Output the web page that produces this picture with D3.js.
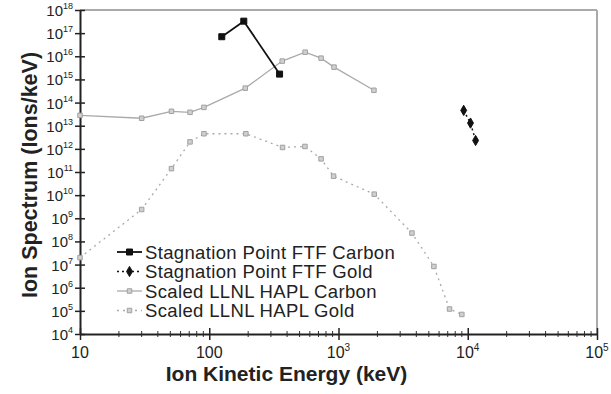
<!DOCTYPE html>
<html>
<head>
<meta charset="utf-8">
<script src="https://cdn.jsdelivr.net/npm/d3@7"></script>
<style>
  body { margin: 0; background: #fff; }
  svg { font-family: "Liberation Sans", Arial, sans-serif; }
</style>
</head>
<body>
<div id="chart"></div>
<script>
// values (energy in keV, spectrum in ions/keV)
const ftfCarbonE = [125, 185, 350];
const ftfCarbonY = [7e16, 3.3e17, 1.7e15];
const ftfGoldE = [9300, 10500, 11500];
const ftfGoldY = [4.6e13, 1.3e13, 2.3e12];
const haplCarbonE = [10, 30, 51, 71, 91, 190, 367, 552, 733, 923, 1880];
const haplCarbonY = [2.8e13, 2.1e13, 4.2e13, 3.8e13, 6.2e13, 4.2e14, 6.2e15, 1.5e16, 8.3e15, 3.4e15, 3.4e14];
const haplGoldE = [10, 30, 51, 71, 91, 192, 369, 550, 733, 916, 1890, 3700, 5470, 7230, 9000];
const haplGoldY = [2e7, 2.4e9, 1.4e11, 2.0e12, 4.5e12, 4.5e12, 1.15e12, 1.27e12, 3.7e11, 6.6e10, 1.1e10, 2.3e8, 8.3e6, 1.2e5, 7e4];

const seriesNames = ["Stagnation Point FTF Carbon", "Stagnation Point FTF Gold",
                     "Scaled LLNL HAPL Carbon", "Scaled LLNL HAPL Gold"];
const xTickExp = [1, 2, 3, 4, 5];
const yTickExp = [4, 5, 6, 7, 8, 9, 10, 11, 12, 13, 14, 15, 16, 17, 18];

const width = 611, height = 394;
const margin = {left: 80, right: 14, top: 10, bottom: 60};
const x0 = margin.left, x1 = width - margin.right;
const y0 = height - margin.bottom, y1 = margin.top;

const svg = d3.select("#chart").append("svg")
    .attr("width", width).attr("height", height);

const x = d3.scaleLog().domain([10, 1e5]).range([x0, x1]);
const y = d3.scaleLog().domain([1e4, 1e18]).range([y0, y1]);

// gray frame on top and right
svg.append("line").attr("x1", x0).attr("x2", x1).attr("y1", y1).attr("y2", y1)
    .attr("stroke", "#aaa").attr("stroke-width", 2);
svg.append("line").attr("x1", x1).attr("x2", x1).attr("y1", y1).attr("y2", y0)
    .attr("stroke", "#aaa").attr("stroke-width", 2);

// minor ticks
const isMajor = (v, list) => list.includes(Math.round(Math.log10(v) * 1000) / 1000);
const xMinor = x.ticks().filter(v => !isMajor(v, xTickExp));
svg.append("g").selectAll("line").data(xMinor).enter().append("line")
    .attr("x1", d => x(d)).attr("x2", d => x(d))
    .attr("y1", y0 - 3).attr("y2", y0 + 3)
    .attr("stroke", "#333").attr("stroke-width", 1);
const yMinor = y.ticks().filter(v => !isMajor(v, yTickExp));
svg.append("g").selectAll("line").data(yMinor).enter().append("line")
    .attr("x1", x0 - 3).attr("x2", x0 + 3)
    .attr("y1", d => y(d)).attr("y2", d => y(d))
    .attr("stroke", "#444").attr("stroke-width", 1);

// x axis
const xAxis = svg.append("g").attr("transform", `translate(0,${y0})`)
    .call(d3.axisBottom(x).tickValues(xTickExp.map(e => Math.pow(10, e))).tickFormat("").tickSizeOuter(0));
xAxis.select(".domain").attr("stroke", "#222").attr("stroke-width", 2);
xAxis.selectAll(".tick line").attr("y1", -6).attr("y2", 6).attr("stroke", "#222").attr("stroke-width", 1.5);
const xLab = svg.append("g").selectAll("text").data(xTickExp).enter().append("text")
    .attr("x", d => x(Math.pow(10, d))).attr("y", y0 + 24)
    .attr("text-anchor", "middle").attr("font-size", 16).attr("fill", "#222");
xLab.each(function (e) {
  const t = d3.select(this);
  if (e <= 2) { t.text(String(Math.pow(10, e))); return; }
  t.append("tspan").text("10");
  t.append("tspan").attr("dy", -7).attr("font-size", 10).text(e);
});

// y axis
const yAxis = svg.append("g").attr("transform", `translate(${x0},0)`)
    .call(d3.axisLeft(y).tickValues(yTickExp.map(e => Math.pow(10, e))).tickFormat("").tickSizeOuter(0));
yAxis.select(".domain").attr("stroke", "#222").attr("stroke-width", 2);
yAxis.selectAll(".tick line").attr("x1", -5).attr("x2", 5).attr("stroke", "#222").attr("stroke-width", 1.5);
const yLab = svg.append("g").selectAll("text").data(yTickExp).enter().append("text")
    .attr("x", x0 - 7).attr("y", d => y(Math.pow(10, d)) + 6)
    .attr("text-anchor", "end").attr("font-size", 15).attr("fill", "#222");
yLab.append("tspan").text("10");
yLab.append("tspan").attr("dy", -7).attr("font-size", 9).text(d => d);

// axis titles
svg.append("text").attr("x", (x0 + x1) / 2 - 52).attr("y", 381)
    .attr("text-anchor", "middle").attr("font-size", 21).attr("font-weight", "bold")
    .attr("fill", "#222").text("Ion Kinetic Energy (keV)");
svg.append("text").attr("transform", `translate(37,${(y0 + y1) / 2 + 3}) rotate(-90)`)
    .attr("text-anchor", "middle").attr("font-size", 21.5).attr("font-weight", "bold")
    .attr("fill", "#222").text("Ion Spectrum (Ions/keV)");

// series
const series = [
  {E: haplGoldE, V: haplGoldY, color: "#aaa", width: 1.3, dash: "2,4", marker: "square", size: 4.5},
  {E: haplCarbonE, V: haplCarbonY, color: "#aaa", width: 1.3, dash: null, marker: "square", size: 4.5},
  {E: ftfGoldE, V: ftfGoldY, color: "#111", width: 1.5, dash: "2,3", marker: "diamond", size: 5.5},
  {E: ftfCarbonE, V: ftfCarbonY, color: "#111", width: 1.8, dash: null, marker: "square", size: 6}
];
const line = d3.line().x(d => x(d[0])).y(d => y(d[1]));
const symType = {square: d3.symbolSquare, diamond: d3.symbolDiamond};

series.forEach(s => {
  const pts = s.E.map((e, i) => [e, s.V[i]]);
  svg.append("path").datum(pts).attr("d", line)
      .attr("fill", "none").attr("stroke", s.color).attr("stroke-width", s.width)
      .attr("stroke-dasharray", s.dash);
  svg.append("g").selectAll("path").data(pts).enter().append("path")
      .attr("d", d3.symbol().type(symType[s.marker]).size(s.size * s.size))
      .attr("transform", d => `translate(${x(d[0])},${y(d[1])})`)
      .attr("fill", s.color === "#aaa" ? "#d0d0d0" : s.color)
      .attr("stroke", s.color === "#aaa" ? "#a0a0a0" : s.color).attr("stroke-width", 1);
});

// legend
const legendStyles = [series[3], series[2], series[1], series[0]];
const lg = svg.append("g").attr("transform", "translate(117,252)");
seriesNames.forEach((name, i) => {
  const s = legendStyles[i];
  const row = lg.append("g").attr("transform", `translate(0,${i * 19.5})`);
  row.append("line").attr("x1", 0).attr("x2", 25).attr("y1", 0).attr("y2", 0)
      .attr("stroke", s.color).attr("stroke-width", s.width).attr("stroke-dasharray", s.dash);
  row.append("path").attr("d", d3.symbol().type(symType[s.marker]).size(s.size * s.size)())
      .attr("transform", "translate(12.5,0)")
      .attr("fill", s.color === "#aaa" ? "#d0d0d0" : s.color)
      .attr("stroke", s.color === "#aaa" ? "#a0a0a0" : s.color);
  row.append("text").attr("x", 28).attr("y", 6.5).attr("font-size", 18.5)
      .attr("letter-spacing", 0.35)
      .attr("fill", "#222").text(name);
});
</script>
</body>
</html>
